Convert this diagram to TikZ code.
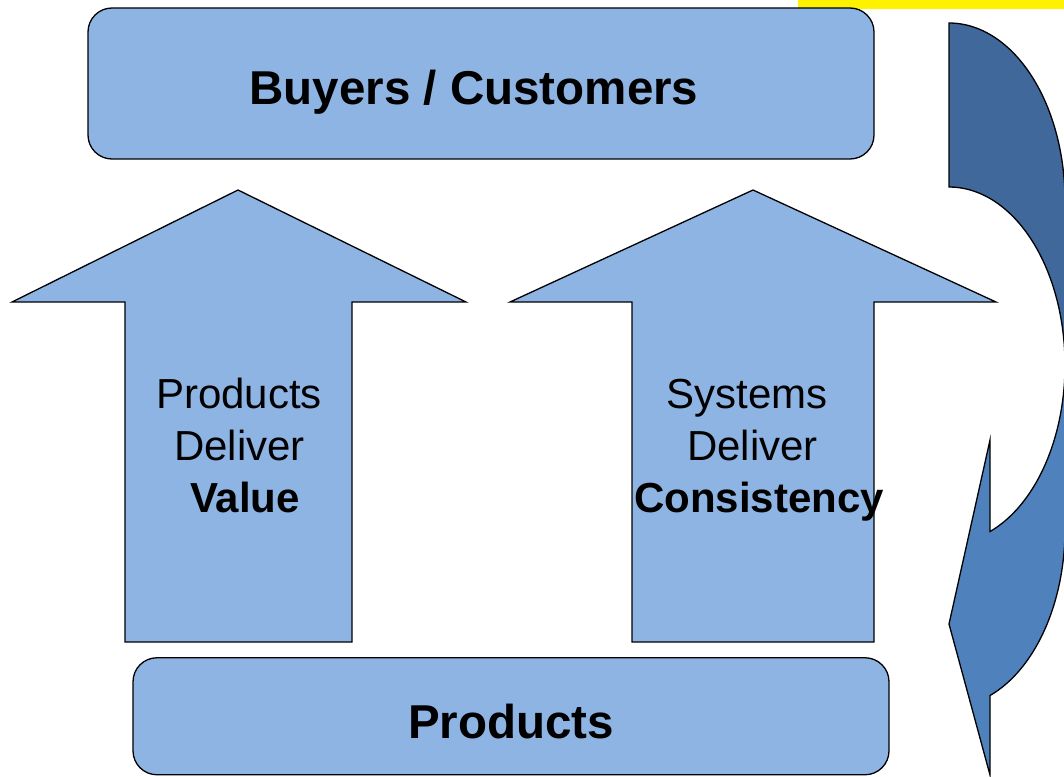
\documentclass[tikz,border=0pt]{standalone}
\usepackage{fontspec}
\setmainfont{Liberation Sans}
\definecolor{boxblue}{RGB}{142,180,227}
\definecolor{darkcurve}{RGB}{64,104,154}
\definecolor{lightcurve}{RGB}{79,129,189}
\begin{document}
\begin{tikzpicture}[x=1pt,y=-1pt,
  outline/.style={draw=black,line width=1.3pt,line join=miter},
  boxshape/.style={outline,fill=boxblue,rounded corners=24pt,inner sep=0pt},
  bigbold/.style={font=\fontsize{47.5}{57}\selectfont\bfseries,anchor=base,inner sep=0pt},
  arrowtext/.style={font=\fontsize{42}{50}\selectfont,anchor=base,inner sep=0pt},
  arrowbold/.style={arrowtext,font=\fontsize{42}{50}\selectfont\bfseries},
  upshape/.style={outline,fill=boxblue}]
\useasboundingbox (0,0) rectangle (1064,776);

% yellow strip
\fill[yellow] (798,0) rectangle (1064,9);

% top box
\node[boxshape,minimum width=786pt,minimum height=151pt] (buyers) at (481,83.5) {};
\node[bigbold] (buyerstxt) at (474,104.5) {Buyers / Customers};

% left up arrow
\draw[upshape] (238,190) -- (466,302) -- (352,302) -- (352,642) -- (125,642) -- (125,302) -- (12,302) -- cycle;
\node[arrowtext] (l1) at (239,408.5) {Products};
\node[arrowtext] (l2) at (239.5,460.5) {Deliver};
\node[arrowbold] (l3) at (245,512) {Value};

% right up arrow
\draw[upshape] (753,190) -- (996,302) -- (874,302) -- (874,642) -- (632,642) -- (632,302) -- (510,302) -- cycle;
\node[arrowtext] (r1) at (747,408.5) {Systems};
\node[arrowtext] (r2) at (752.5,460.5) {Deliver};
\node[arrowbold] (r3) at (759,512) {Consistency};

% bottom box
\node[boxshape,minimum width=756pt,minimum height=117pt] (products) at (511,716.25) {};
\node[bigbold] (productstxt) at (511,738) {Products};

% curved arrow on the right
\begin{scope}
\clip (0,0) rectangle (1064,776);
\draw[outline,fill=darkcurve]
  plot[domain=-90:0,samples=60] ({949+116*cos(\x)},{201+178*sin(\x)})
  -- (1075,201) -- (1075,365)
  -- plot[domain=0:-90,samples=60] ({949+116*cos(\x)},{365+178*sin(\x)})
  -- cycle;
\draw[outline,fill=lightcurve]
  plot[domain=0:69.3,samples=60] ({949+116*cos(\x)},{365+178*sin(\x)})
  -- (990,440) -- (949,624) -- (990,775)
  -- plot[domain=69.3:0,samples=60] ({949+116*cos(\x)},{529+178*sin(\x)})
  -- (1075,529) -- (1075,365) -- cycle;
\end{scope}
\end{tikzpicture}
\end{document}
